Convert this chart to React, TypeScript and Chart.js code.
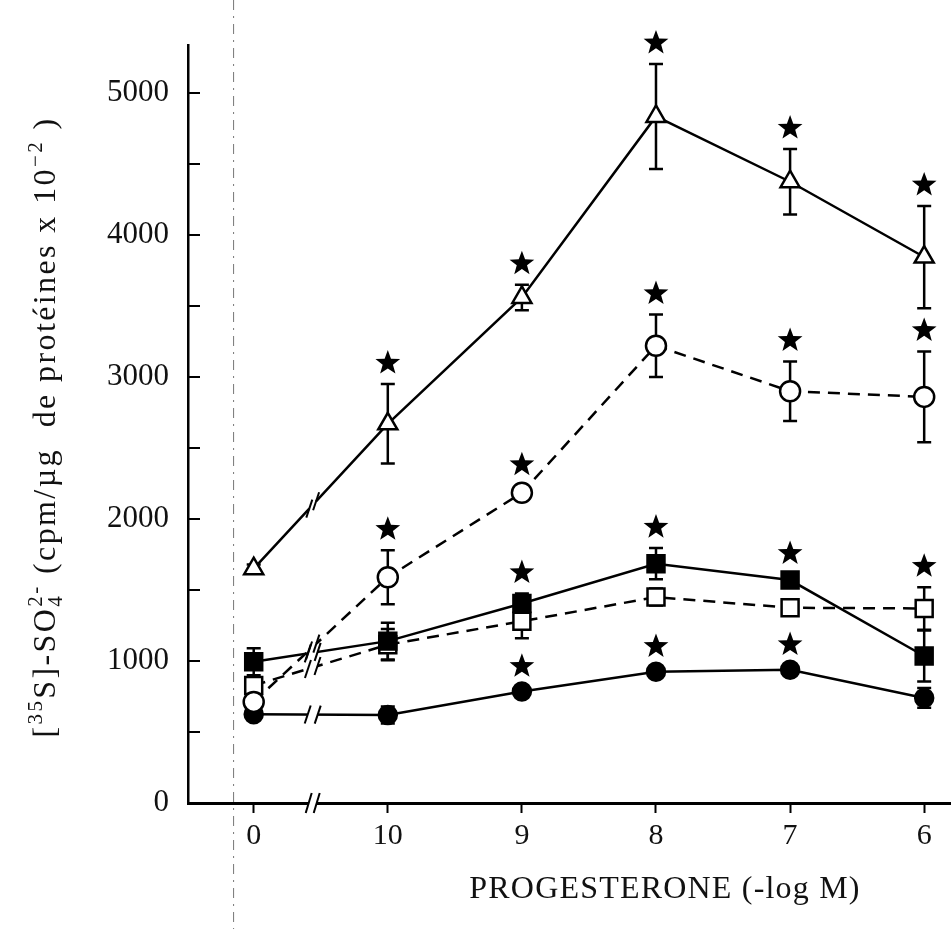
import React, { useEffect, useRef } from "react";
import { Chart, registerables } from "chart.js";

Chart.register(...registerables);

// ---- data ----
const categories = ["0", "10", "9", "8", "7", "6"];
const yTickValues = [0, 1000, 2000, 3000, 4000, 5000];

const triangleMean = [1650, 2670, 3560, 4835, 4375, 3845];
const triangleErr = [30, 280, 90, 370, 230, 360];
const triangleStar = [0, 1, 1, 1, 1, 1];

const openCircleMean = [712, 1590, 2185, 3220, 2900, 2860];
const openCircleErr = [0, 190, 50, 220, 210, 320];
const openCircleStar = [0, 1, 1, 1, 1, 1];

const filledSquareMean = [995, 1140, 1405, 1685, 1570, 1035];
const filledSquareErr = [95, 130, 70, 110, 40, 180];
const filledSquareStar = [0, 0, 1, 1, 1, 0];

const openSquareMean = [828, 1115, 1280, 1450, 1375, 1370];
const openSquareErr = [0, 110, 120, 60, 30, 150];
const openSquareStar = [0, 0, 0, 0, 0, 1];

const filledCircleMean = [625, 620, 785, 925, 938, 740];
const filledCircleErr = [20, 60, 30, 30, 30, 70];
const filledCircleStar = [0, 0, 1, 1, 1, 0];

const xTitle = "PROGESTERONE (-log M)";

// ---- style constants ----
const SERIF = '"Liberation Serif", "DejaVu Serif", serif';
const BREAK_AT = 0.44;
const SCAN_LINE_AT = -0.15;

function toPoints(arr: number[]) {
  return arr.map((v, i) => ({ x: i, y: v }));
}

function drawStar(ctx: CanvasRenderingContext2D, cx: number, cy: number, R: number, r: number) {
  ctx.beginPath();
  for (let k = 0; k < 10; k++) {
    const ang = -Math.PI / 2 + (k * Math.PI) / 5;
    const rad = k % 2 === 0 ? R : r;
    const px = cx + rad * Math.cos(ang);
    const py = cy + rad * Math.sin(ang);
    if (k === 0) ctx.moveTo(px, py);
    else ctx.lineTo(px, py);
  }
  ctx.closePath();
  ctx.fill();
}

const decorPlugin = {
  id: "decor",
  beforeDatasetsDraw(chart: any) {
    const ctx = chart.ctx as CanvasRenderingContext2D;
    const xs = chart.scales.x;
    const ys = chart.scales.y;
    ctx.save();
    ctx.strokeStyle = "#000";
    ctx.lineWidth = 2.5;
    ctx.setLineDash([]);
    chart.data.datasets.forEach((ds: any) => {
      ds.data.forEach((p: any, i: number) => {
        const e = ds.err[i];
        if (!e) return;
        const px = xs.getPixelForValue(p.x);
        const top = ys.getPixelForValue(p.y + e);
        const bot = ys.getPixelForValue(p.y - e);
        ctx.beginPath();
        ctx.moveTo(px, top);
        ctx.lineTo(px, bot);
        ctx.moveTo(px - 7, top);
        ctx.lineTo(px + 7, top);
        ctx.moveTo(px - 7, bot);
        ctx.lineTo(px + 7, bot);
        ctx.stroke();
      });
    });
    ctx.restore();
  },
  afterDatasetsDraw(chart: any) {
    const ctx = chart.ctx as CanvasRenderingContext2D;
    const xs = chart.scales.x;
    const ys = chart.scales.y;
    const bx = xs.getPixelForValue(BREAK_AT);
    ctx.save();
    ctx.setLineDash([]);
    const marks: { cx: number; cy: number; dx: number; dy: number }[] = [];
    chart.data.datasets.forEach((ds: any, di: number) => {
      const meta = chart.getDatasetMeta(di);
      const a = meta.data[0];
      const b = meta.data[1];
      const t = (bx - a.x) / (b.x - a.x);
      const cy = a.y + t * (b.y - a.y);
      let dx = b.x - a.x;
      let dy = b.y - a.y;
      const len = Math.hypot(dx, dy);
      dx /= len;
      dy /= len;
      ctx.strokeStyle = "#fff";
      ctx.lineWidth = 6;
      ctx.lineCap = "butt";
      ctx.beginPath();
      ctx.moveTo(bx - 5 * dx, cy - 5 * dy);
      ctx.lineTo(bx + 5 * dx, cy + 5 * dy);
      ctx.stroke();
      marks.push({ cx: bx, cy, dx, dy });
    });
    ctx.strokeStyle = "#000";
    ctx.lineWidth = 2;
    marks.forEach((m) => {
      [-1, 1].forEach((s) => {
        const mx = m.cx + s * 5 * m.dx;
        const my = m.cy + s * 5 * m.dy;
        ctx.beginPath();
        ctx.moveTo(mx - 3, my + 9);
        ctx.lineTo(mx + 3, my - 9);
        ctx.stroke();
      });
    });
    ctx.fillStyle = "#000";
    chart.data.datasets.forEach((ds: any) => {
      ds.data.forEach((p: any, i: number) => {
        if (!ds.star[i]) return;
        const px = xs.getPixelForValue(p.x);
        const top = ys.getPixelForValue(p.y + (ds.err[i] || 0));
        drawStar(ctx, px, top - 21, 13, 5.4);
      });
    });
    ctx.restore();
  },
  afterDraw(chart: any) {
    const ctx = chart.ctx as CanvasRenderingContext2D;
    const xs = chart.scales.x;
    const ys = chart.scales.y;
    const area = chart.chartArea;
    ctx.save();
    ctx.strokeStyle = "#000";
    ctx.lineWidth = 2;
    ctx.setLineDash([]);
    for (let v = 500; v <= 5000; v += 500) {
      const py = ys.getPixelForValue(v);
      ctx.beginPath();
      ctx.moveTo(area.left, py);
      ctx.lineTo(area.left + 12, py);
      ctx.stroke();
    }
    const bx = xs.getPixelForValue(BREAK_AT);
    const ay = area.bottom;
    ctx.fillStyle = "#fff";
    ctx.fillRect(bx - 4, ay - 4, 8, 8);
    ctx.strokeStyle = "#000";
    ctx.lineWidth = 2;
    [-4, 4].forEach((o) => {
      ctx.beginPath();
      ctx.moveTo(bx + o - 3, ay + 10);
      ctx.lineTo(bx + o + 3, ay - 10);
      ctx.stroke();
    });
    const sx = xs.getPixelForValue(SCAN_LINE_AT);
    ctx.strokeStyle = "#777";
    ctx.lineWidth = 1;
    ctx.setLineDash([10, 6, 2, 6]);
    ctx.beginPath();
    ctx.moveTo(sx, 0);
    ctx.lineTo(sx, chart.height);
    ctx.stroke();
    ctx.setLineDash([]);
    // x title
    ctx.fillStyle = "#111";
    ctx.font = `32px ${SERIF}`;
    (ctx as any).letterSpacing = "1.2px";
    ctx.textAlign = "center";
    ctx.textBaseline = "alphabetic";
    ctx.fillText(xTitle, 665, 898);
    // y title with super/subscripts
    const size = 32;
    const small = Math.round(size * 0.66);
    (ctx as any).letterSpacing = "2.4px";
    const pieces: { t: string; k: "n" | "sup" | "stack"; t2?: string }[] = [
      { t: "[", k: "n" },
      { t: "35", k: "sup" },
      { t: "S]-SO", k: "n" },
      { t: "4", k: "stack", t2: "2-" },
      { t: " (cpm/µg  de protéines x 10", k: "n" },
      { t: "\u22122", k: "sup" },
      { t: " )", k: "n" },
    ];
    const fN = `${size}px ${SERIF}`;
    const fS = `${small}px ${SERIF}`;
    let total = 0;
    const widths = pieces.map((p) => {
      let w: number;
      if (p.k === "n") {
        ctx.font = fN;
        w = ctx.measureText(p.t).width;
      } else if (p.k === "stack") {
        ctx.font = fS;
        w = Math.max(ctx.measureText(p.t).width, ctx.measureText(p.t2 || "").width);
      } else {
        ctx.font = fS;
        w = ctx.measureText(p.t).width;
      }
      total += w;
      return w;
    });
    ctx.translate(55, 427);
    ctx.rotate(-Math.PI / 2);
    ctx.textAlign = "left";
    let cx = -total / 2;
    pieces.forEach((p, i) => {
      if (p.k === "n") {
        ctx.font = fN;
        ctx.fillText(p.t, cx, 0);
      } else if (p.k === "sup") {
        ctx.font = fS;
        ctx.fillText(p.t, cx, -size * 0.42);
      } else {
        ctx.font = fS;
        ctx.fillText(p.t, cx, size * 0.22);
        ctx.fillText(p.t2 || "", cx, -size * 0.42);
      }
      cx += widths[i];
    });
    ctx.restore();
  },
};

export default function App() {
  const ref = useRef<HTMLCanvasElement | null>(null);
  useEffect(() => {
    if (!ref.current) return;
    const common = { borderColor: "#000", borderWidth: 2.5, pointBorderColor: "#000", pointBorderWidth: 2.5, tension: 0 };
    const chart = new Chart(ref.current, {
      type: "line",
      data: {
        datasets: [
          {
            ...common,
            label: "triangle",
            data: toPoints(triangleMean),
            err: triangleErr,
            star: triangleStar,
            pointStyle: "triangle",
            pointRadius: 11,
            pointBackgroundColor: "#fff",
          } as any,
          {
            ...common,
            label: "open circle",
            data: toPoints(openCircleMean),
            err: openCircleErr,
            star: openCircleStar,
            borderDash: [12, 8],
            pointStyle: "circle",
            pointRadius: 10,
            pointBackgroundColor: "#fff",
          } as any,
          {
            ...common,
            label: "filled square",
            data: toPoints(filledSquareMean),
            err: filledSquareErr,
            star: filledSquareStar,
            pointStyle: "rect",
            pointRadius: 12,
            pointBackgroundColor: "#000",
          } as any,
          {
            ...common,
            label: "open square",
            data: toPoints(openSquareMean),
            err: openSquareErr,
            star: openSquareStar,
            borderDash: [12, 8],
            pointStyle: "rect",
            pointRadius: 12,
            pointBackgroundColor: "#fff",
          } as any,
          {
            ...common,
            label: "filled circle",
            data: toPoints(filledCircleMean),
            err: filledCircleErr,
            star: filledCircleStar,
            pointStyle: "circle",
            pointRadius: 9,
            pointBackgroundColor: "#000",
          } as any,
        ],
      },
      options: {
        animation: false,
        responsive: false,
        maintainAspectRatio: false,
        layout: { autoPadding: false, padding: { top: 45, left: 0, right: 0, bottom: 0 } },
        plugins: { legend: { display: false }, tooltip: { enabled: false } },
        elements: { line: { fill: false } },
        scales: {
          x: {
            type: "linear",
            min: -0.49,
            max: 5.2,
            afterBuildTicks: (s: any) => {
              s.ticks = categories.map((_, i) => ({ value: i }));
            },
            afterFit: (s: any) => {
              s.height = 126;
            },
            ticks: {
              callback: (v: any) => categories[Math.round(Number(v))] ?? "",
              color: "#111",
              font: { family: SERIF, size: 30 },
              padding: 5,
              maxRotation: 0,
              autoSkip: false,
            },
            grid: { drawOnChartArea: false, drawTicks: true, tickLength: 10, tickColor: "#000", tickWidth: 2 },
            border: { display: true, color: "#000", width: 3 },
          },
          y: {
            type: "linear",
            min: 0,
            max: 5338,
            afterBuildTicks: (s: any) => {
              s.ticks = yTickValues.map((v) => ({ value: v }));
            },
            afterFit: (s: any) => {
              s.width = 188;
            },
            ticks: {
              callback: (v: any) => String(v),
              color: "#111",
              font: { family: SERIF, size: 31 },
              padding: 19,
            },
            grid: { drawOnChartArea: false, drawTicks: false },
            border: { display: true, color: "#000", width: 2.5 },
          },
        },
      } as any,
      plugins: [decorPlugin],
    });
    return () => chart.destroy();
  }, []);
  return (
    <div style={{ position: "absolute", left: 0, top: 0, width: 951, height: 929, background: "#fff" }}>
      <canvas ref={ref} width={951} height={929} style={{ display: "block" }} />
    </div>
  );
}
